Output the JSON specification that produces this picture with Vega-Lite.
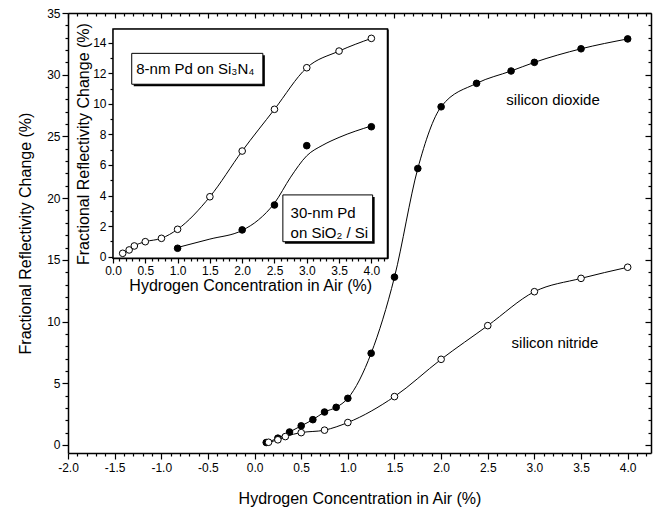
{
  "$schema": "https://vega.github.io/schema/vega-lite/v6.json",
  "width": 583,
  "height": 440,
  "autosize": {"type": "none"},
  "padding": {"left": 68, "top": 13, "right": 6, "bottom": 59},
  "background": "white",
  "config": {
    "view": {"stroke": null},
    "font": "Liberation Sans",
    "axis": {
      "grid": false,
      "domainColor": "black",
      "tickColor": "black",
      "labelColor": "black",
      "titleColor": "black",
      "labelFont": "Liberation Sans",
      "titleFont": "Liberation Sans",
      "titleFontWeight": "normal",
      "labelFontSize": 12,
      "titleFontSize": 16,
      "domainWidth": 1.5,
      "tickWidth": 1.2,
      "zindex": 1,
      "labelOverlap": false,
      "labelFlush": false
    }
  },
  "datasets": {
    "main": [
      {"series": "silicon dioxide", "x": 0.125, "y": 0.2},
      {"series": "silicon dioxide", "x": 0.25, "y": 0.55},
      {"series": "silicon dioxide", "x": 0.375, "y": 1.05},
      {"series": "silicon dioxide", "x": 0.5, "y": 1.55},
      {"series": "silicon dioxide", "x": 0.625, "y": 2.05},
      {"series": "silicon dioxide", "x": 0.75, "y": 2.67},
      {"series": "silicon dioxide", "x": 0.875, "y": 3.05},
      {"series": "silicon dioxide", "x": 1.0, "y": 3.78},
      {"series": "silicon dioxide", "x": 1.25, "y": 7.43},
      {"series": "silicon dioxide", "x": 1.5, "y": 13.6},
      {"series": "silicon dioxide", "x": 1.75, "y": 22.4},
      {"series": "silicon dioxide", "x": 2.0, "y": 27.4},
      {"series": "silicon dioxide", "x": 2.38, "y": 29.3},
      {"series": "silicon dioxide", "x": 2.75, "y": 30.3},
      {"series": "silicon dioxide", "x": 3.0, "y": 31.0},
      {"series": "silicon dioxide", "x": 3.5, "y": 32.1},
      {"series": "silicon dioxide", "x": 4.0, "y": 32.9},
      {"series": "silicon nitride", "x": 0.15, "y": 0.22},
      {"series": "silicon nitride", "x": 0.25, "y": 0.42},
      {"series": "silicon nitride", "x": 0.33, "y": 0.68},
      {"series": "silicon nitride", "x": 0.5, "y": 1.0},
      {"series": "silicon nitride", "x": 0.75, "y": 1.2},
      {"series": "silicon nitride", "x": 1.0, "y": 1.82},
      {"series": "silicon nitride", "x": 1.5, "y": 3.92},
      {"series": "silicon nitride", "x": 2.0, "y": 6.94},
      {"series": "silicon nitride", "x": 2.5, "y": 9.67},
      {"series": "silicon nitride", "x": 3.0, "y": 12.42},
      {"series": "silicon nitride", "x": 3.5, "y": 13.5},
      {"series": "silicon nitride", "x": 4.0, "y": 14.4}
    ],
    "inset": [
      {"series": "30-nm Pd on SiO2 / Si", "x": 1.0, "y": 0.55},
      {"series": "30-nm Pd on SiO2 / Si", "x": 2.0, "y": 1.75},
      {"series": "30-nm Pd on SiO2 / Si", "x": 2.5, "y": 3.38},
      {"series": "30-nm Pd on SiO2 / Si", "x": 3.0, "y": 7.26},
      {"series": "30-nm Pd on SiO2 / Si", "x": 4.0, "y": 8.5},
      {"series": "8-nm Pd on Si3N4", "x": 0.15, "y": 0.22},
      {"series": "8-nm Pd on Si3N4", "x": 0.25, "y": 0.44},
      {"series": "8-nm Pd on Si3N4", "x": 0.33, "y": 0.7},
      {"series": "8-nm Pd on Si3N4", "x": 0.5, "y": 0.98},
      {"series": "8-nm Pd on Si3N4", "x": 0.75, "y": 1.2},
      {"series": "8-nm Pd on Si3N4", "x": 1.0, "y": 1.79},
      {"series": "8-nm Pd on Si3N4", "x": 1.5, "y": 3.92},
      {"series": "8-nm Pd on Si3N4", "x": 2.0, "y": 6.91},
      {"series": "8-nm Pd on Si3N4", "x": 2.5, "y": 9.64},
      {"series": "8-nm Pd on Si3N4", "x": 3.0, "y": 12.36},
      {"series": "8-nm Pd on Si3N4", "x": 3.5, "y": 13.45},
      {"series": "8-nm Pd on Si3N4", "x": 4.0, "y": 14.28}
    ],
    "insetfit": [
      {"series": "30-nm Pd fit", "x": 1.0, "y": 0.6},
      {"series": "30-nm Pd fit", "x": 1.5, "y": 1.15},
      {"series": "30-nm Pd fit", "x": 2.0, "y": 1.72},
      {"series": "30-nm Pd fit", "x": 2.25, "y": 2.4},
      {"series": "30-nm Pd fit", "x": 2.5, "y": 3.5},
      {"series": "30-nm Pd fit", "x": 2.75, "y": 5.2},
      {"series": "30-nm Pd fit", "x": 3.0, "y": 6.6},
      {"series": "30-nm Pd fit", "x": 3.25, "y": 7.3},
      {"series": "30-nm Pd fit", "x": 3.5, "y": 7.8},
      {"series": "30-nm Pd fit", "x": 4.0, "y": 8.55}
    ]
  },
  "layer": [
    {
      "data": {"name": "main"},
      "transform": [{"filter": "datum.series == 'silicon dioxide'"}],
      "mark": {"type": "line", "interpolate": "monotone", "color": "black", "strokeWidth": 1},
      "encoding": {
        "x": {"field": "x", "type": "quantitative", "scale": {"domain": [-2, 4.25], "nice": false, "zero": false},
          "axis": {"orient": "bottom", "values": [-2, -1.5, -1, -0.5, 0, 0.5, 1, 1.5, 2, 2.5, 3, 3.5, 4], "labelExpr": "replace(format(datum.value, '.1f'), '−', '-')", "tickSize": 6, "labelPadding": 3, "title": "Hydrogen Concentration in Air (%)", "titlePadding": 17}},
        "y": {"field": "y", "type": "quantitative", "scale": {"domain": [-0.65, 35], "nice": false, "zero": false},
          "axis": {"orient": "left", "values": [0, 5, 10, 15, 20, 25, 30, 35], "tickSize": 6, "labelPadding": 2, "title": "Fractional Reflectivity Change (%)", "titlePadding": 13}}
      }
    },
    {
      "data": {"name": "main"},
      "transform": [{"filter": "datum.series == 'silicon nitride'"}],
      "mark": {"type": "line", "interpolate": "monotone", "color": "black", "strokeWidth": 1},
      "encoding": {
        "x": {"field": "x", "type": "quantitative", "scale": {"domain": [-2, 4.25], "nice": false, "zero": false},
          "axis": {"orient": "bottom", "values": [-1.9, -1.8, -1.7, -1.6, -1.4, -1.3, -1.2, -1.1, -0.9, -0.8, -0.7, -0.6, -0.4, -0.3, -0.2, -0.1, 0.1, 0.2, 0.3, 0.4, 0.6, 0.7, 0.8, 0.9, 1.1, 1.2, 1.3, 1.4, 1.6, 1.7, 1.8, 1.9, 2.1, 2.2, 2.3, 2.4, 2.6, 2.7, 2.8, 2.9, 3.1, 3.2, 3.3, 3.4, 3.6, 3.7, 3.8, 3.9, 4.1, 4.2], "labels": false, "domain": false, "tickSize": 3, "title": null}},
        "y": {"field": "y", "type": "quantitative", "scale": {"domain": [-0.65, 35], "nice": false, "zero": false},
          "axis": {"orient": "left", "values": [1, 2, 3, 4, 6, 7, 8, 9, 11, 12, 13, 14, 16, 17, 18, 19, 21, 22, 23, 24, 26, 27, 28, 29, 31, 32, 33, 34], "labels": false, "domain": false, "tickSize": 3, "title": null}}
      }
    },
    {
      "data": {"name": "main"},
      "transform": [{"filter": "datum.series == 'silicon dioxide'"}],
      "mark": {"type": "point", "shape": "circle", "filled": true, "size": 44, "fill": "black", "stroke": "black", "strokeWidth": 1, "opacity": 1},
      "encoding": {
        "x": {"field": "x", "type": "quantitative", "scale": {"domain": [-2, 4.25], "nice": false, "zero": false},
          "axis": {"orient": "bottom", "offset": -440, "values": [-2, -1.5, -1, -0.5, 0, 0.5, 1, 1.5, 2, 2.5, 3, 3.5, 4], "labels": false, "ticks": true, "tickSize": 5, "tickColor": "#000000", "tickWidth": 1.21, "title": null}},
        "y": {"field": "y", "type": "quantitative", "scale": {"domain": [-0.65, 35], "nice": false, "zero": false},
          "axis": {"orient": "left", "offset": -583, "values": [0, 5, 10, 15, 20, 25, 30, 35], "labels": false, "ticks": true, "tickSize": 6, "tickColor": "#000000", "tickWidth": 1.21, "title": null}}
      }
    },
    {
      "data": {"name": "main"},
      "transform": [{"filter": "datum.series == 'silicon nitride'"}],
      "mark": {"type": "point", "shape": "circle", "filled": true, "size": 44, "fill": "white", "stroke": "black", "strokeWidth": 1, "opacity": 1},
      "encoding": {
        "x": {"field": "x", "type": "quantitative", "scale": {"domain": [-2, 4.25], "nice": false, "zero": false},
          "axis": {"orient": "bottom", "offset": -440, "values": [-1.9, -1.8, -1.7, -1.6, -1.4, -1.3, -1.2, -1.1, -0.9, -0.8, -0.7, -0.6, -0.4, -0.3, -0.2, -0.1, 0.1, 0.2, 0.3, 0.4, 0.6, 0.7, 0.8, 0.9, 1.1, 1.2, 1.3, 1.4, 1.6, 1.7, 1.8, 1.9, 2.1, 2.2, 2.3, 2.4, 2.6, 2.7, 2.8, 2.9, 3.1, 3.2, 3.3, 3.4, 3.6, 3.7, 3.8, 3.9, 4.1, 4.2], "labels": false, "domain": false, "ticks": true, "tickSize": 3, "tickColor": "#000000", "tickWidth": 1.21, "title": null}},
        "y": {"field": "y", "type": "quantitative", "scale": {"domain": [-0.65, 35], "nice": false, "zero": false},
          "axis": {"orient": "left", "offset": -583, "values": [1, 2, 3, 4, 6, 7, 8, 9, 11, 12, 13, 14, 16, 17, 18, 19, 21, 22, 23, 24, 26, 27, 28, 29, 31, 32, 33, 34], "labels": false, "domain": false, "ticks": true, "tickSize": 3, "tickColor": "#000000", "tickWidth": 1.21, "title": null}}
      }
    },
    {
      "data": {"values": [{"label": "silicon dioxide"}]},
      "mark": {"type": "text", "fontSize": 15, "align": "center", "baseline": "middle", "color": "black"},
      "encoding": {
        "x": {"datum": 3.2, "type": "quantitative", "scale": {"domain": [-2, 4.25], "nice": false, "zero": false}, "axis": null},
        "y": {"datum": 27.97, "type": "quantitative", "scale": {"domain": [-0.65, 35], "nice": false, "zero": false}, "axis": null},
        "text": {"field": "label"}
      }
    },
    {
      "data": {"values": [{"label": "silicon nitride"}]},
      "mark": {"type": "text", "fontSize": 15, "align": "center", "baseline": "middle", "color": "black"},
      "encoding": {
        "x": {"datum": 3.22, "type": "quantitative", "scale": {"domain": [-2, 4.25], "nice": false, "zero": false}, "axis": null},
        "y": {"datum": 8.29, "type": "quantitative", "scale": {"domain": [-0.65, 35], "nice": false, "zero": false}, "axis": null},
        "text": {"field": "label"}
      }
    },
    {
      "data": {"values": [{"box": "inset frame"}]},
      "mark": {"type": "rect", "fill": "white", "stroke": "black", "strokeWidth": 1.5},
      "encoding": {
        "x": {"datum": 0, "type": "quantitative", "scale": {"domain": [0, 4.25], "range": [45, 319.5], "nice": false, "zero": false}, "axis": null},
        "x2": {"datum": 4.25},
        "y": {"datum": -0.1, "type": "quantitative", "scale": {"domain": [-0.1, 14.9], "range": [245.2, 15.9], "nice": false, "zero": false}, "axis": null},
        "y2": {"datum": 14.9}
      }
    },
    {
      "data": {"name": "insetfit"},
      "mark": {"type": "line", "interpolate": "monotone", "color": "black", "strokeWidth": 1},
      "encoding": {
        "x": {"field": "x", "type": "quantitative", "scale": {"domain": [0, 4.25], "range": [45, 319.5], "nice": false, "zero": false},
          "axis": {"orient": "bottom", "offset": -195, "values": [0, 0.5, 1, 1.5, 2, 2.5, 3, 3.5, 4], "format": ".1f", "tickSize": 5, "labelPadding": 2, "title": "Hydrogen Concentration in Air (%)", "titlePadding": 1}},
        "y": {"field": "y", "type": "quantitative", "scale": {"domain": [-0.1, 14.9], "range": [245.2, 15.9], "nice": false, "zero": false},
          "axis": {"orient": "left", "offset": -45, "values": [0, 2, 4, 6, 8, 10, 12, 14], "tickSize": 5, "labelPadding": 2, "title": "Fractional Reflectivity Change (%)", "titlePadding": 1}}
      }
    },
    {
      "data": {"name": "inset"},
      "transform": [{"filter": "datum.series == '8-nm Pd on Si3N4'"}],
      "mark": {"type": "line", "interpolate": "monotone", "color": "black", "strokeWidth": 1},
      "encoding": {
        "x": {"field": "x", "type": "quantitative", "scale": {"domain": [0, 4.25], "range": [45, 319.5], "nice": false, "zero": false},
          "axis": {"orient": "bottom", "offset": -195, "values": [0.1, 0.2, 0.3, 0.4, 0.6, 0.7, 0.8, 0.9, 1.1, 1.2, 1.3, 1.4, 1.6, 1.7, 1.8, 1.9, 2.1, 2.2, 2.3, 2.4, 2.6, 2.7, 2.8, 2.9, 3.1, 3.2, 3.3, 3.4, 3.6, 3.7, 3.8, 3.9, 4.1, 4.2], "labels": false, "domain": false, "tickSize": 3, "title": null}},
        "y": {"field": "y", "type": "quantitative", "scale": {"domain": [-0.1, 14.9], "range": [245.2, 15.9], "nice": false, "zero": false},
          "axis": {"orient": "left", "offset": -45, "values": [1, 3, 5, 7, 9, 11, 13], "labels": false, "domain": false, "tickSize": 3, "title": null}}
      }
    },
    {
      "data": {"name": "inset"},
      "transform": [{"filter": "datum.series == '30-nm Pd on SiO2 / Si'"}],
      "mark": {"type": "point", "shape": "circle", "filled": true, "size": 44, "fill": "black", "stroke": "black", "strokeWidth": 1, "opacity": 1},
      "encoding": {
        "x": {"field": "x", "type": "quantitative", "scale": {"domain": [0, 4.25], "range": [45, 319.5], "nice": false, "zero": false},
          "axis": {"orient": "bottom", "offset": -424.1, "values": [0, 0.5, 1, 1.5, 2, 2.5, 3, 3.5, 4], "labels": false, "ticks": true, "tickSize": 4, "tickColor": "#000000", "tickWidth": 1.21, "title": null}},
        "y": {"field": "y", "type": "quantitative", "scale": {"domain": [-0.1, 14.9], "range": [245.2, 15.9], "nice": false, "zero": false},
          "axis": {"orient": "left", "offset": -319.5, "values": [0, 2, 4, 6, 8, 10, 12, 14], "labels": false, "ticks": true, "tickSize": 5, "tickColor": "#000000", "tickWidth": 1.21, "title": null}}
      }
    },
    {
      "data": {"name": "inset"},
      "transform": [{"filter": "datum.series == '8-nm Pd on Si3N4'"}],
      "mark": {"type": "point", "shape": "circle", "filled": true, "size": 44, "fill": "white", "stroke": "black", "strokeWidth": 1, "opacity": 1},
      "encoding": {
        "x": {"field": "x", "type": "quantitative", "scale": {"domain": [0, 4.25], "range": [45, 319.5], "nice": false, "zero": false},
          "axis": {"orient": "bottom", "offset": -424.1, "values": [0.1, 0.2, 0.3, 0.4, 0.6, 0.7, 0.8, 0.9, 1.1, 1.2, 1.3, 1.4, 1.6, 1.7, 1.8, 1.9, 2.1, 2.2, 2.3, 2.4, 2.6, 2.7, 2.8, 2.9, 3.1, 3.2, 3.3, 3.4, 3.6, 3.7, 3.8, 3.9, 4.1, 4.2], "labels": false, "domain": false, "ticks": true, "tickSize": 2.5, "tickColor": "#000000", "tickWidth": 1.21, "title": null}},
        "y": {"field": "y", "type": "quantitative", "scale": {"domain": [-0.1, 14.9], "range": [245.2, 15.9], "nice": false, "zero": false},
          "axis": {"orient": "left", "offset": -319.5, "values": [1, 3, 5, 7, 9, 11, 13], "labels": false, "domain": false, "ticks": true, "tickSize": 3, "tickColor": "#000000", "tickWidth": 1.21, "title": null}}
      }
    },
    {
      "data": {"values": [{"box": "8-nm Pd on Si3N4"}]},
      "mark": {"type": "rect", "fill": "black", "xOffset": 2, "x2Offset": 2, "yOffset": 2, "y2Offset": 2},
      "encoding": {
        "x": {"datum": 0.29, "type": "quantitative", "scale": {"domain": [0, 4.25], "range": [45, 319.5], "nice": false, "zero": false}, "axis": null},
        "x2": {"datum": 2.32},
        "y": {"datum": 11.28, "type": "quantitative", "scale": {"domain": [-0.1, 14.9], "range": [245.2, 15.9], "nice": false, "zero": false}, "axis": null},
        "y2": {"datum": 13.3}
      }
    },
    {
      "data": {"values": [{"box": "8-nm Pd on Si3N4"}]},
      "mark": {"type": "rect", "fill": "white", "stroke": "black", "strokeWidth": 1},
      "encoding": {
        "x": {"datum": 0.29, "type": "quantitative", "scale": {"domain": [0, 4.25], "range": [45, 319.5], "nice": false, "zero": false}, "axis": null},
        "x2": {"datum": 2.32},
        "y": {"datum": 11.28, "type": "quantitative", "scale": {"domain": [-0.1, 14.9], "range": [245.2, 15.9], "nice": false, "zero": false}, "axis": null},
        "y2": {"datum": 13.3}
      }
    },
    {
      "data": {"values": [{"box": "30-nm Pd on SiO2 / Si"}]},
      "mark": {"type": "rect", "fill": "black", "xOffset": 2, "x2Offset": 2, "yOffset": 2, "y2Offset": 2},
      "encoding": {
        "x": {"datum": 2.63, "type": "quantitative", "scale": {"domain": [0, 4.25], "range": [45, 319.5], "nice": false, "zero": false}, "axis": null},
        "x2": {"datum": 4.02},
        "y": {"datum": 0.98, "type": "quantitative", "scale": {"domain": [-0.1, 14.9], "range": [245.2, 15.9], "nice": false, "zero": false}, "axis": null},
        "y2": {"datum": 4.04}
      }
    },
    {
      "data": {"values": [{"box": "30-nm Pd on SiO2 / Si"}]},
      "mark": {"type": "rect", "fill": "white", "stroke": "black", "strokeWidth": 1},
      "encoding": {
        "x": {"datum": 2.63, "type": "quantitative", "scale": {"domain": [0, 4.25], "range": [45, 319.5], "nice": false, "zero": false}, "axis": null},
        "x2": {"datum": 4.02},
        "y": {"datum": 0.98, "type": "quantitative", "scale": {"domain": [-0.1, 14.9], "range": [245.2, 15.9], "nice": false, "zero": false}, "axis": null},
        "y2": {"datum": 4.04}
      }
    },
    {
      "data": {"values": [{"label": "8-nm Pd on Si₃N₄"}]},
      "mark": {"type": "text", "fontSize": 15, "align": "left", "baseline": "middle", "color": "black"},
      "encoding": {
        "x": {"datum": 0.36, "type": "quantitative", "scale": {"domain": [0, 4.25], "range": [45, 319.5], "nice": false, "zero": false}, "axis": null},
        "y": {"datum": 12.3, "type": "quantitative", "scale": {"domain": [-0.1, 14.9], "range": [245.2, 15.9], "nice": false, "zero": false}, "axis": null},
        "text": {"field": "label"}
      }
    },
    {
      "data": {"values": [{"label": "30-nm Pd\non SiO₂ / Si"}]},
      "mark": {"type": "text", "fontSize": 15, "align": "left", "baseline": "middle", "lineBreak": "\n", "lineHeight": 20, "color": "black"},
      "encoding": {
        "x": {"datum": 2.75, "type": "quantitative", "scale": {"domain": [0, 4.25], "range": [45, 319.5], "nice": false, "zero": false}, "axis": null},
        "y": {"datum": 2.84, "type": "quantitative", "scale": {"domain": [-0.1, 14.9], "range": [245.2, 15.9], "nice": false, "zero": false}, "axis": null},
        "text": {"field": "label"}
      }
    }
  ],
  "resolve": {
    "scale": {"x": "independent", "y": "independent"},
    "axis": {"x": "independent", "y": "independent"}
  }
}
